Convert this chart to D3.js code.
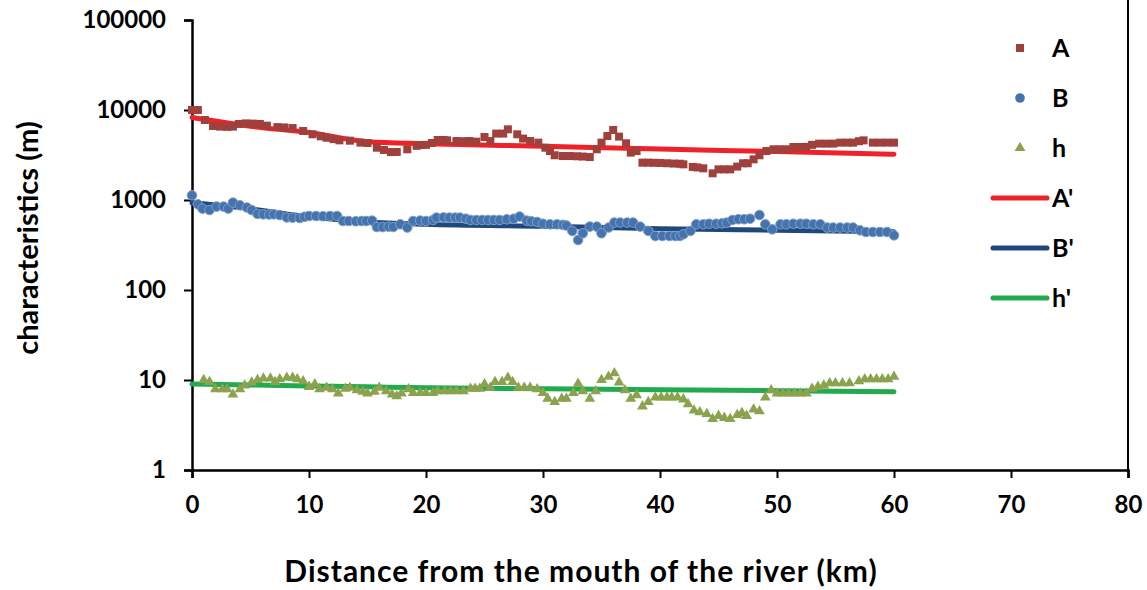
<!DOCTYPE html>
<html>
<head>
<meta charset="utf-8">
<script src="https://cdn.jsdelivr.net/npm/d3@7"></script>
<style>
  body { margin: 0; background: #fff; }
  text { font-family: Lato, "Liberation Sans", sans-serif; font-weight: bold; fill: #000; }
</style>
</head>
<body>
<div id="chart"></div>
<script>
let width = 1147,
	height = 590;

// series A (squares)
const distA = [0, 0.5, 1.1, 1.8, 2.4, 3.0, 3.5, 4.0, 4.6, 5.2, 5.8, 6.4, 7.3, 7.9, 8.6, 9.5, 10.3, 11.0, 11.5, 12.1,
	12.6, 13.5, 14.4, 15.0, 15.8, 16.4, 17.0, 17.5, 18.4, 19.2, 19.6, 20.0, 20.5, 21.0, 21.5, 21.8, 22.6, 23.2, 23.7, 24.3,
	25.0, 25.5, 26.0, 26.6, 27.0, 27.8, 28.3, 28.9, 29.6, 30.2, 30.6, 31.0, 31.7, 32.3, 32.9, 33.4, 34.0, 34.6, 35.0, 35.5,
	36.0, 36.5, 37.1, 37.5, 38.0, 38.5, 39.0, 39.5, 40.0, 40.6, 41.2, 41.7, 42.0, 42.8, 43.2, 43.7, 44.5, 45.0, 45.5, 46.0,
	46.6, 47.1, 47.5, 48.0, 48.5, 49.1, 49.7, 50.2, 50.8, 51.4, 51.9, 52.5, 53.0, 53.6, 54.2, 54.8, 55.4, 56.0, 56.5, 57.0,
	57.4, 58.2, 58.8, 59.4, 60.0];
const valA = [10000, 10000, 7740, 6640, 6540, 6500, 6540, 7000, 7100, 7060, 7000, 6700, 6460, 6400, 6300, 5850, 5370, 5100, 4920, 4750,
	4600, 4560, 4340, 4300, 3810, 3600, 3410, 3420, 3660, 4000, 4080, 4100, 4300, 4640, 4640, 4600, 4520, 4500, 4520, 4450,
	5010, 4520, 5470, 5470, 6100, 5370, 4810, 4520, 4340, 3810, 3500, 3140, 3080, 3080, 3060, 3040, 3000, 3660, 4340, 5140,
	6000, 5060, 4270, 3360, 3500, 2600, 2600, 2590, 2580, 2560, 2540, 2530, 2490, 2330, 2300, 2250, 1980, 2190, 2190, 2190,
	2350, 2560, 2560, 2830, 3140, 3500, 3660, 3660, 3660, 3880, 3880, 3900, 4100, 4230, 4230, 4230, 4340, 4340, 4340, 4500,
	4600, 4340, 4340, 4340, 4340];

// series B (circles)
const distB = [0, 0.5, 0.9, 1.5, 2.1, 2.7, 3.1, 3.5, 4.1, 4.7, 5.1, 5.6, 6.1, 6.6, 7.0, 7.5, 8.1, 8.6, 9.2, 9.6,
	10.0, 10.6, 11.2, 11.8, 12.4, 12.9, 13.4, 14.0, 14.5, 14.9, 15.4, 15.8, 16.3, 16.8, 17.2, 17.8, 18.4, 18.9, 19.5, 20.0,
	20.6, 20.9, 21.5, 22.0, 22.5, 22.9, 23.4, 23.8, 24.3, 24.8, 25.3, 25.8, 26.3, 26.9, 27.5, 28.0, 28.6, 29.0, 29.5, 30.0,
	30.6, 31.2, 31.7, 32.0, 32.5, 33.0, 33.4, 34.0, 34.6, 35.0, 35.6, 36.1, 36.6, 37.2, 37.7, 38.3, 39.0, 39.6, 40.2, 40.8,
	41.3, 41.7, 42.0, 42.6, 43.1, 43.7, 44.2, 44.8, 45.3, 45.7, 46.2, 46.7, 47.2, 47.7, 48.5, 49.0, 49.6, 50.3, 50.8, 51.4,
	52.0, 52.5, 53.1, 53.7, 54.3, 54.8, 55.4, 56.0, 56.5, 57.1, 57.6, 58.2, 58.8, 59.4, 60.0];
const valB = [1128, 896, 802, 774, 845, 845, 802, 935, 873, 824, 774, 700, 693, 690, 693, 680, 640, 637, 630, 650,
	664, 664, 660, 664, 664, 584, 584, 580, 584, 584, 590, 501, 500, 505, 501, 537, 494, 584, 590, 584,
	600, 637, 640, 637, 637, 637, 620, 600, 600, 600, 600, 600, 600, 610, 620, 655, 590, 580, 570, 545,
	537, 537, 530, 520, 453, 359, 427, 506, 506, 427, 494, 561, 561, 561, 561, 506, 453, 398, 398, 398,
	398, 398, 416, 453, 537, 537, 545, 545, 550, 560, 600, 611, 611, 620, 681, 537, 472, 537, 537, 545,
	545, 545, 537, 537, 494, 494, 494, 494, 494, 460, 441, 441, 441, 441, 405];

// series h (triangles)
const distH = [1.0, 1.5, 2.0, 2.6, 3.0, 3.5, 4.1, 4.5, 5.1, 5.6, 6.1, 6.7, 7.1, 7.5, 8.1, 8.6, 9.0, 9.5, 10.0, 10.5,
	10.9, 11.5, 12.0, 12.5, 13.1, 13.5, 14.1, 14.6, 15.0, 15.6, 16.0, 16.6, 17.1, 17.5, 17.9, 18.5, 18.9, 19.5, 20.0, 20.6,
	21.0, 21.6, 22.1, 22.6, 23.2, 23.8, 24.2, 24.6, 25.0, 25.5, 25.9, 26.5, 27.0, 27.4, 27.9, 28.4, 28.9, 29.5, 30.0, 30.4,
	31.0, 31.6, 32.0, 32.6, 33.0, 33.4, 34.0, 34.5, 35.0, 35.6, 36.1, 36.5, 37.0, 37.5, 38.0, 38.5, 39.0, 39.6, 40.1, 40.6,
	41.0, 41.5, 42.0, 42.4, 42.9, 43.4, 44.0, 44.5, 45.0, 45.5, 46.0, 46.6, 47.0, 47.4, 48.0, 48.5, 49.0, 49.5, 50.0, 50.5,
	51.0, 51.5, 52.0, 52.5, 53.0, 53.5, 54.0, 54.5, 55.0, 55.6, 56.2, 57.0, 57.5, 58.0, 58.5, 59.0, 59.5, 60.0];
const valH = [10, 9.5, 7.9, 7.9, 7.9, 6.9, 7.9, 8.7, 9.4, 10, 10.4, 10.4, 9.5, 10.2, 10.6, 10.6, 10.2, 9.7, 8.4, 9.0,
	7.9, 8.2, 7.9, 7.1, 8.0, 8.2, 7.7, 7.4, 7.1, 7.4, 8.2, 7.5, 6.9, 6.6, 7.1, 7.9, 7.2, 7.2, 7.2, 7.2,
	7.5, 7.5, 7.5, 7.5, 7.5, 8.0, 8.0, 8.0, 9.0, 8.2, 9.5, 9.5, 10.6, 9.5, 8.2, 8.2, 8.2, 7.9, 7.2, 6.2,
	5.7, 6.2, 6.2, 7.2, 9.1, 7.5, 6.2, 7.5, 10, 10.9, 11.9, 9.4, 7.7, 6.2, 6.8, 5.1, 5.7, 6.4, 6.4, 6.4,
	6.4, 6.4, 6.1, 5.4, 4.6, 4.4, 4.2, 3.7, 4.0, 3.8, 3.7, 4.1, 4.3, 4.0, 4.7, 4.5, 6.4, 7.7, 7.1, 7.1,
	7.1, 7.1, 7.1, 7.1, 8.0, 8.4, 8.7, 9.2, 9.2, 9.2, 9.2, 9.7, 10.2, 10.2, 10.2, 10.2, 10.2, 10.9];

// fitted curves A', B', h'
const distFit = [0, 5, 10, 15, 20, 30, 40, 50, 60];
const fitA = [8240, 6600, 5610, 4450, 4230, 3950, 3680, 3450, 3220];
const fitB = [930, 800, 650, 570, 537, 510, 480, 462, 445];
const fitH = [9.0, 8.8, 8.6, 8.4, 8.2, 8.0, 7.8, 7.6, 7.4];

const xTicks = [0, 10, 20, 30, 40, 50, 60, 70, 80];
const yTicks = [1, 10, 100, 1000, 10000, 100000];
const legendNames = ['A', 'B', 'h', "A'", "B'", "h'"];

let svg = d3.select('#chart').append('svg').attr('width', width).attr('height', height);

let x = d3.scaleLinear().domain([0, 80]).range([192, 1128]);
let y = d3.scaleLog().domain([1, 100000]).range([470, 20]);

// right frame edge
svg.append('line').attr('x1', x(80)).attr('x2', x(80)).attr('y1', 0).attr('y2', y(1))
	.attr('stroke', '#000').attr('stroke-width', 2);

// axes
let xAxis = svg.append('g').attr('transform', `translate(0,${y(1)})`)
	.call(d3.axisBottom(x).tickValues(xTicks).tickSize(8).tickPadding(18).tickFormat(d3.format('d')));
let yAxis = svg.append('g').attr('transform', `translate(${x(0)},0)`)
	.call(d3.axisLeft(y).tickValues(yTicks).tickSize(8).tickPadding(18).tickFormat(d3.format('d')));
[xAxis, yAxis].forEach(g => {
	g.select('.domain').attr('stroke', '#000').attr('stroke-width', 2.5);
	g.selectAll('.tick line').attr('stroke', '#000').attr('stroke-width', 2);
	g.selectAll('text').attr('font-size', 24).attr('font-family', 'Lato, sans-serif').attr('font-weight', 'bold').attr('fill', '#000');
});

// fitted lines
let fitLine = vals => d3.line().curve(d3.curveMonotoneX)
	.x((d, i) => x(distFit[i])).y(d => y(d))(vals);
[[fitA, '#ee2229'], [fitB, '#1f497d'], [fitH, '#22aa4f']].forEach(([vals, c]) => {
	svg.append('path').attr('d', fitLine(vals)).attr('fill', 'none').attr('stroke', c)
		.attr('stroke-width', 5).attr('stroke-linecap', 'round');
});

// markers
svg.append('g').selectAll('rect').data(valA).enter().append('rect')
	.attr('x', (d, i) => x(distA[i]) - 4).attr('y', d => y(d) - 4)
	.attr('width', 8).attr('height', 8).attr('fill', '#a0403c');

svg.append('g').selectAll('circle').data(valB).enter().append('circle')
	.attr('cx', (d, i) => x(distB[i])).attr('cy', d => y(d)).attr('r', 4.8)
	.attr('fill', '#4473ad').attr('stroke', '#7d9fcb').attr('stroke-width', 1);

let tri = d3.symbol().type(d3.symbolTriangle).size(50);
svg.append('g').selectAll('path').data(valH).enter().append('path')
	.attr('d', tri)
	.attr('transform', (d, i) => `translate(${x(distH[i])},${y(d)})`)
	.attr('fill', '#8ba24e');

// legend
let leg = svg.append('g');
let legY = [48, 98, 148, 198, 248, 298];
leg.append('rect').attr('x', 1016).attr('y', legY[0] - 4).attr('width', 8).attr('height', 8).attr('fill', '#a0403c');
leg.append('circle').attr('cx', 1020).attr('cy', legY[1]).attr('r', 4.8).attr('fill', '#4473ad');
leg.append('path').attr('d', tri).attr('transform', `translate(1020,${legY[2]})`).attr('fill', '#8ba24e');
[['#ee2229', 3], ['#1f497d', 4], ['#22aa4f', 5]].forEach(([c, i]) => {
	leg.append('line').attr('x1', 993).attr('x2', 1047).attr('y1', legY[i]).attr('y2', legY[i])
		.attr('stroke', c).attr('stroke-width', 5).attr('stroke-linecap', 'round');
});
leg.selectAll('text').data(legendNames).enter().append('text')
	.attr('x', 1052).attr('y', (d, i) => legY[i] + 9).attr('font-size', 25).text(d => d);

// axis titles
svg.append('text').attr('x', 581).attr('y', 582).attr('text-anchor', 'middle').attr('font-size', 30)
	.attr('letter-spacing', 1).text('Distance from the mouth of the river (km)');
svg.append('text').attr('transform', 'translate(38,238) rotate(-90)').attr('text-anchor', 'middle').attr('font-size', 29)
	.text('characteristics (m)');
</script>
</body>
</html>
